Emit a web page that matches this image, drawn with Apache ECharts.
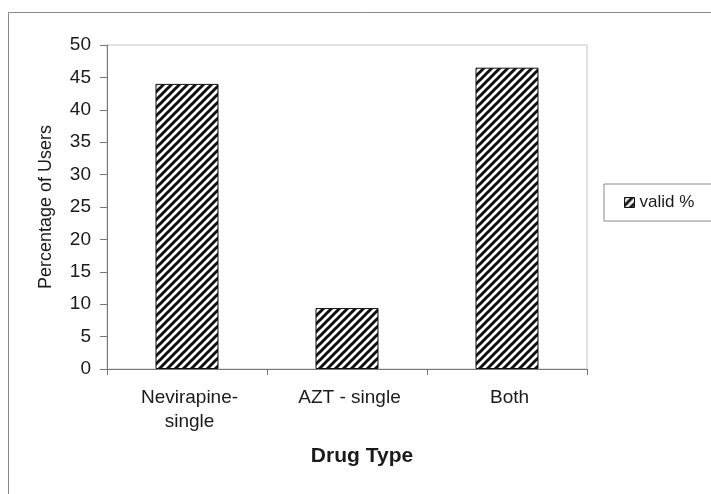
<!DOCTYPE html>
<html>
<head>
<meta charset="utf-8">
<script src="https://cdn.jsdelivr.net/npm/echarts@6/dist/echarts.min.js"></script>
<style>
  html, body { margin: 0; padding: 0; background: #fff; }
  #chart { width: 711px; height: 494px; }
</style>
</head>
<body>
<div id="chart"></div>
<script>
// Drug types and the share of users on each
const categories = ['Nevirapine-\nsingle', 'AZT - single', 'Both'];
const validPct = [44.0, 9.4, 46.5];
const yTicks = { min: 0, max: 50, interval: 5 };
const seriesName = 'valid %';

// Diagonal hatch fill (///) drawn on a small repeating tile
function hatchTile() {
  const s = 8;
  const c = document.createElement('canvas');
  c.width = s; c.height = s;
  const g = c.getContext('2d');
  g.fillStyle = '#fff';
  g.fillRect(0, 0, s, s);
  g.strokeStyle = '#111';
  g.lineWidth = 3;
  g.lineCap = 'square';
  [[-s, s, s, -s], [0, s, s, 0], [0, 2 * s, 2 * s, 0]].forEach(function (l) {
    g.beginPath();
    g.moveTo(l[0], l[1]);
    g.lineTo(l[2], l[3]);
    g.stroke();
  });
  return c;
}
const hatch = { image: hatchTile(), repeat: 'repeat' };
const font = 'Liberation Sans, Arial, Helvetica, sans-serif';

const chart = echarts.init(document.getElementById('chart'), null, { renderer: 'canvas' });
chart.setOption({
  backgroundColor: '#fff',
  animation: false,
  textStyle: { fontFamily: font, color: '#1a1a1a' },
  graphic: [{
    type: 'rect',
    shape: { x: 8.5, y: 12.5, width: 800, height: 600 },
    style: { fill: 'none', stroke: '#8a8a8a', lineWidth: 1 },
    z: -1
  }],
  grid: {
    left: 107, right: 124, top: 45, bottom: 125,
    show: true, borderColor: '#c4c4c4', borderWidth: 1
  },
  legend: {
    left: 604, top: 184,
    padding: [10, 40, 10, 20],
    borderColor: '#8a8a8a', borderWidth: 1,
    itemWidth: 10, itemHeight: 10, itemGap: 6,
    textStyle: { fontFamily: font, fontSize: 17, color: '#1a1a1a' },
    data: [{ name: seriesName, icon: 'rect', itemStyle: { color: hatch, borderColor: '#111', borderWidth: 1 } }]
  },
  xAxis: {
    type: 'category',
    data: categories,
    name: 'Drug Type',
    nameLocation: 'middle',
    nameGap: 77,
    nameTextStyle: { fontFamily: font, fontSize: 21, fontWeight: 'bold', color: '#1a1a1a', padding: [0, 0, 0, 30] },
    axisLine: { lineStyle: { color: '#777', width: 1 } },
    axisTick: { show: true, length: 6, lineStyle: { color: '#777' } },
    axisLabel: { fontFamily: font, fontSize: 19, color: '#1a1a1a', margin: 17, lineHeight: 24, verticalAlign: 'top', padding: [0, 0, 0, 5] }
  },
  yAxis: {
    type: 'value',
    min: yTicks.min, max: yTicks.max, interval: yTicks.interval,
    name: 'Percentage of Users',
    nameLocation: 'middle',
    nameGap: 52,
    nameTextStyle: { fontFamily: font, fontSize: 18, color: '#1a1a1a' },
    axisLine: { show: true, lineStyle: { color: '#777', width: 1 } },
    axisTick: { show: true, length: 7, lineStyle: { color: '#777' } },
    axisLabel: { fontFamily: font, fontSize: 19, color: '#1a1a1a', margin: 16 },
    splitLine: { show: false }
  },
  series: [{
    name: seriesName,
    type: 'bar',
    data: validPct,
    barWidth: 63,
    itemStyle: { color: hatch, borderColor: '#111', borderWidth: 1 }
  }]
});
</script>
</body>
</html>
